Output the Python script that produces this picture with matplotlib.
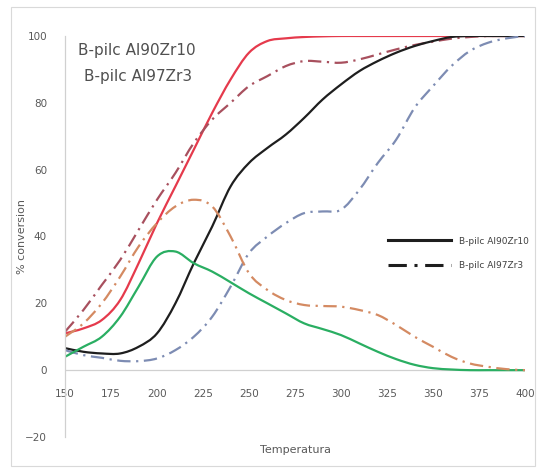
import matplotlib
matplotlib.use("Agg")
import matplotlib.pyplot as plt
from matplotlib.lines import Line2D
from matplotlib.patches import Rectangle, PathPatch
from matplotlib.path import Path

# temperatures (x) and % conversion
temps = [150, 160, 170, 180, 190, 200, 210, 220, 230, 240, 250, 260, 270,
         280, 290, 300, 310, 320, 330, 340, 350, 360, 370, 380, 390, 400]

conv_al90 = [11, 12.5, 15, 21, 32, 44, 55, 66, 77, 87, 95, 98.5, 99.3,
             99.7, 99.9, 100, 100, 100, 100, 100, 100, 100, 100, 100, 100, 100]
conv_al97 = [11.5, 18, 25.5, 33, 42, 51, 59, 68, 75, 80, 85, 88, 91,
             92.5, 92.3, 92, 93, 94.5, 96, 97.3, 98.3, 99.2, 99.7, 100, 100, 100]
yield_al90 = [6.6, 5.5, 5, 5, 7, 11, 20, 32, 43, 55, 62, 66.5, 70.5,
              75.5, 81, 85.5, 89.5, 92.5, 95, 97, 98.5, 99.7, 100, 100, 100, 100]
yield_al97 = [6, 4.5, 3.7, 2.8, 2.7, 3.5, 6, 10, 16, 25, 35, 40, 44,
              47, 47.5, 48, 54, 62, 69, 78.5, 85, 91, 95.5, 98, 99.3, 100]
sel_al90 = [4, 7, 10, 16, 25, 34, 35.5, 32, 29.5, 26.3, 23, 20, 17,
            14, 12.3, 10.5, 8, 5.5, 3.3, 1.6, 0.6, 0.2, 0, 0, 0, 0]
sel_al97 = [10, 14, 20, 28, 37, 44, 49, 51, 49, 40, 29, 24, 21,
            19.5, 19.2, 19, 18, 16.5, 13.5, 10, 7, 4, 2, 1, 0.3, 0]

xticks = [150, 175, 200, 225, 250, 275, 300, 325, 350, 375, 400]
yticks = [-20, 0, 20, 40, 60, 80, 100]


def smooth_line(ax, xs, ys, **kw):
    # Excel-style smoothed line: bezier segments through the data points
    pts = list(zip(xs, ys))
    n = len(pts)
    verts = [pts[0]]
    codes = [Path.MOVETO]
    for i in range(n - 1):
        p0 = pts[max(i - 1, 0)]
        p1 = pts[i]
        p2 = pts[i + 1]
        p3 = pts[min(i + 2, n - 1)]
        c1 = (p1[0] + (p2[0] - p0[0]) / 6, p1[1] + (p2[1] - p0[1]) / 6)
        c2 = (p2[0] - (p3[0] - p1[0]) / 6, p2[1] - (p3[1] - p1[1]) / 6)
        verts += [c1, c2, p2]
        codes += [Path.CURVE4] * 3
    ax.add_patch(PathPatch(Path(verts, codes), fill=False,
                           capstyle="butt", joinstyle="round", **kw))


W, H = 537, 470
fig = plt.figure(figsize=(W / 100, H / 100), dpi=100)
ax = fig.add_axes([65 / W, 1 - 437 / H, 460 / W, 401 / H])

dashdot = (0, (6, 2.5, 1, 2.5))
lw = 1.6
smooth_line(ax, temps, conv_al90, edgecolor="#e53a4c", lw=lw)
smooth_line(ax, temps, conv_al97, edgecolor="#a8505e", lw=lw, linestyle=dashdot)
smooth_line(ax, temps, yield_al90, edgecolor="#1e1e1e", lw=lw)
smooth_line(ax, temps, yield_al97, edgecolor="#7d8cb3", lw=lw, linestyle=dashdot)
smooth_line(ax, temps, sel_al90, edgecolor="#2aae62", lw=lw)
smooth_line(ax, temps, sel_al97, edgecolor="#d48a62", lw=lw, linestyle=dashdot)

ax.set_xlim(150, 400)
ax.set_ylim(-20, 100)
ax.set_xticks(xticks)
ax.set_yticks(yticks)
ax.axhline(0, color="#d0d0d0", lw=0.9, zorder=0)

for s in ["top", "right", "bottom"]:
    ax.spines[s].set_visible(False)
ax.spines["left"].set_color("#d0d0d0")
ax.spines["left"].set_linewidth(0.9)

ax.tick_params(axis="both", length=0, labelsize=7.5, colors="#595959")
ax.tick_params(axis="y", pad=13)
# x tick labels sit just below the zero line
ax.xaxis.set_tick_params(pad=-(437 - 370) * 0.72 + 14)

ax.set_ylabel("% conversion", fontsize=8, color="#595959")
ax.yaxis.set_label_coords(-0.083, 0.5)
ax.set_xlabel("Temperatura", fontsize=8, color="#595959", labelpad=6)

fig.text(78 / W, 1 - 50 / H, "B-pilc Al90Zr10", fontsize=11, color="#505050",
         va="center", ha="left")
fig.text(84 / W, 1 - 77 / H, "B-pilc Al97Zr3", fontsize=11, color="#505050",
         va="center", ha="left")

handles = [Line2D([], [], color="#1e1e1e", lw=2.2),
           Line2D([], [], color="#1e1e1e", lw=2.2, linestyle=dashdot)]
ax.legend(handles, ["B-pilc Al90Zr10", "B-pilc Al97Zr3"], loc="upper left",
          bbox_to_anchor=(0.685, 0.52), frameon=False, fontsize=6.5,
          handlelength=7.0, handletextpad=0.8, labelspacing=1.75,
          labelcolor="#404040")

fig.patches.append(Rectangle((11 / W, 1 - 466 / H), 524 / W, 459 / H,
                             transform=fig.transFigure, fill=False,
                             edgecolor="#d9d9d9", lw=0.8))

fig.savefig("out.png", dpi=100)
